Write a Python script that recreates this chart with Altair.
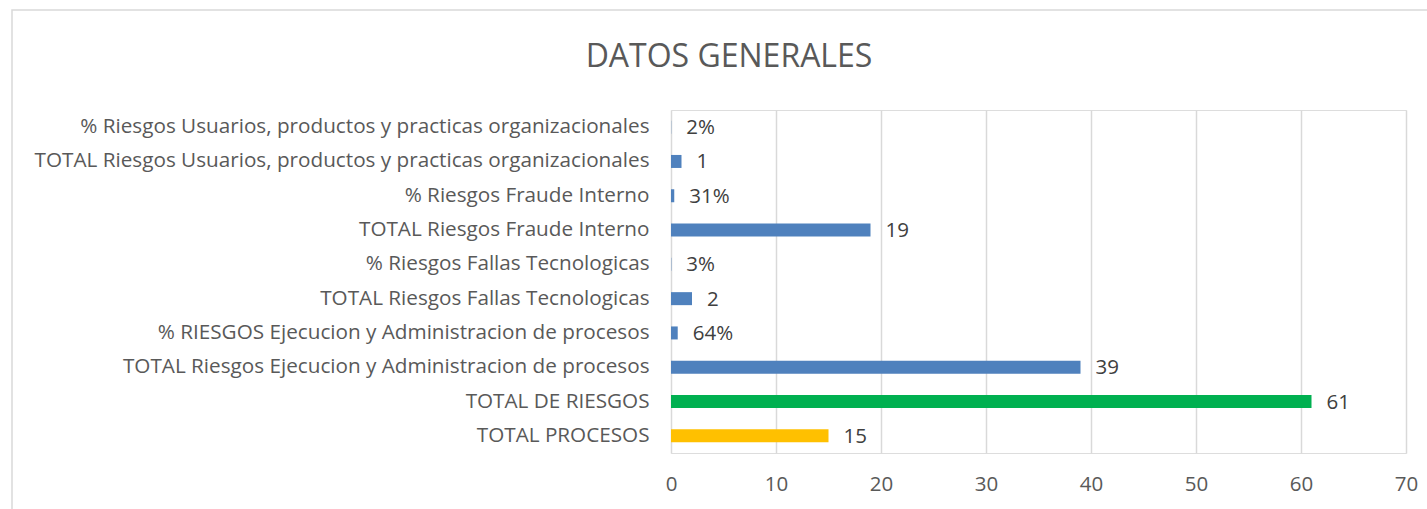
import altair as alt
import pandas as pd

categories = [
    "% Riesgos Usuarios, productos y practicas organizacionales",
    "TOTAL Riesgos Usuarios, productos y practicas organizacionales",
    "% Riesgos Fraude Interno",
    "TOTAL Riesgos Fraude Interno",
    "% Riesgos Fallas Tecnologicas",
    "TOTAL Riesgos Fallas Tecnologicas",
    "% RIESGOS Ejecucion y Administracion de procesos",
    "TOTAL Riesgos Ejecucion y Administracion de procesos",
    "TOTAL DE RIESGOS\u2002",
    "TOTAL PROCESOS\u2002",
]
values = [0.02, 1, 0.31, 19, 0.03, 2, 0.64, 39, 61, 15]
labels = ["2%", "1", "31%", "19", "3%", "2", "64%", "39", "61", "15"]
colors = ["#4F81BD"] * 8 + ["#00B050", "#FFC000"]
title_text = ["DATOS GENERALES"]

df = pd.DataFrame({"cat": categories, "val": values, "lab": labels, "col": colors})
tdf = pd.DataFrame({"t": title_text})

FONT = "Open Sans"
W, H = 735, 343

y_enc = alt.Y("cat:N", sort=categories, title=None,
              axis=alt.Axis(labelFont=FONT, labelFontSize=20.7, labelColor="#595959",
                            labelPadding=22, ticks=False, domain=False, labelLimit=700))
x_enc = alt.X("val:Q", title=None, scale=alt.Scale(domain=[0, 70]),
              axis=alt.Axis(values=[0, 10, 20, 30, 40, 50, 60, 70], labelFont=FONT,
                            labelFontSize=20.5, labelColor="#595959", labelPadding=21,
                            labelFlush=False, labelOverlap=False,
                            ticks=False, domain=False, grid=True, gridColor="#d9d9d9",
                            gridWidth=1.5))

bars = alt.Chart(df).mark_bar(size=13).encode(
    x=x_enc, y=y_enc, color=alt.Color("col:N", scale=None)
)
text = alt.Chart(df).mark_text(align="left", baseline="middle", dx=15, dy=1,
                               font=FONT, fontSize=20.5, color="#404040").encode(
    x="val:Q", y=alt.Y("cat:N", sort=categories), text="lab:N"
)
title = alt.Chart(tdf).mark_text(align="center", baseline="middle", font=FONT,
                                 fontSize=32, color="#595959").encode(
    x=alt.value(729 - 671), y=alt.value(57 - 110), text="t:N"
)
frame = alt.Chart(tdf).mark_rect(fill=None, stroke="#d9d9d9", strokeWidth=1.5, clip=False).encode(
    x=alt.value(12 - 671), x2=alt.value(1440 - 671),
    y=alt.value(10 - 110), y2=alt.value(520 - 110)
)

chart = alt.layer(bars, text, title, frame).properties(
    width=W, height=H,
    autosize=alt.AutoSizeParams(type="none"),
    padding={"left": 671, "top": 110, "right": 21, "bottom": 56},
).configure_view(stroke=None).configure(background="white")

chart.save("out.html", embed_options={"renderer": "svg", "actions": False})
